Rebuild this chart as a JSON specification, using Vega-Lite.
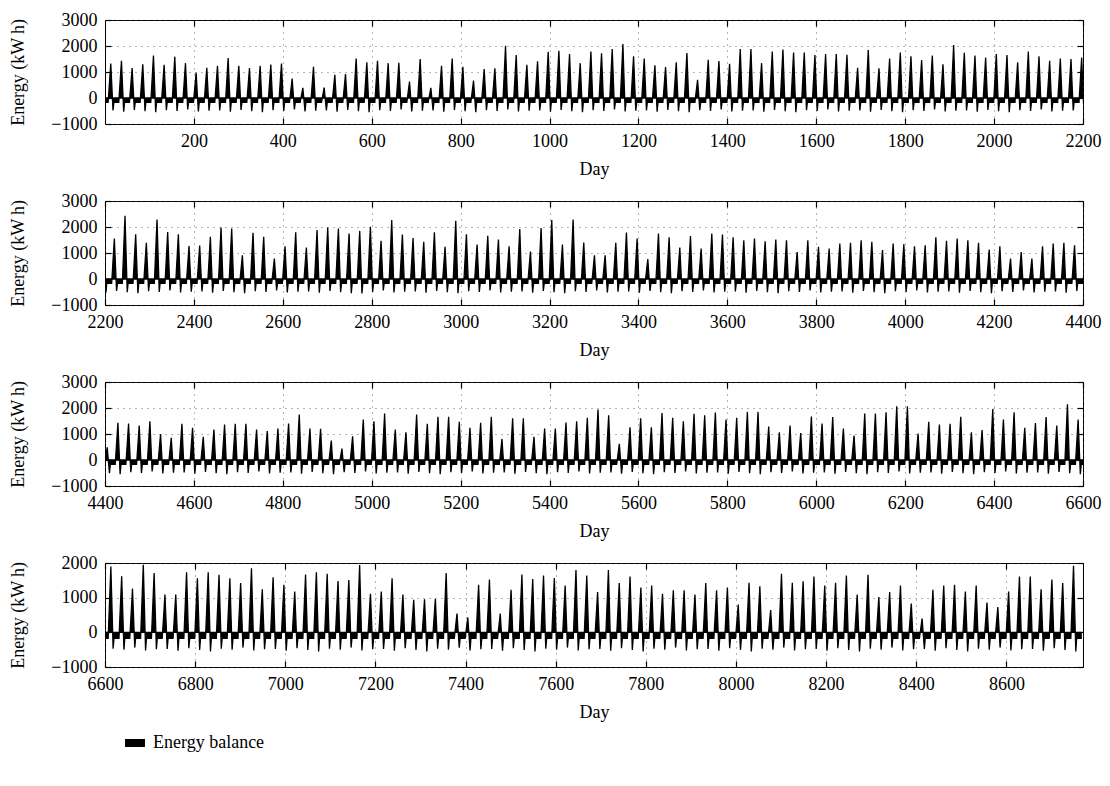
{"$schema":"https://vega.github.io/schema/vega-lite/v6.json","background":"white","padding":{"left":9,"top":10,"right":5,"bottom":5},"bounds":"flush","spacing":77,
"config":{"font":"Liberation Serif","view":{"stroke":"black","strokeWidth":1},
"axis":{"domain":false,"grid":true,"gridColor":"#444","gridDash":[1,5],"gridWidth":0.8,"tickColor":"black","tickSize":-6,"tickWidth":1.2,"labelPadding":14,"labelFlush":false,"labelFont":"Liberation Serif","labelFontSize":18,"labelColor":"black","titleFont":"Liberation Serif","titleFontSize":18,"titleFontWeight":"normal","titleColor":"black","format":"d"},
"axisX":{"titlePadding":10},"axisY":{"titlePadding":23},
"legend":{"orient":"none","legendX":20,"legendY":713,"title":null,"symbolType":"M-1,-0.4H1V0.4H-1Z","symbolSize":400,"labelFont":"Liberation Serif","labelFontSize":18,"labelColor":"black","symbolStrokeWidth":0,"labelOffset":8}},
"datasets":{"e":[{"h":0,"e":-170},
{"h":7,"e":-170},{"h":13,"e":1330},{"h":18,"e":-480},{"h":20,"e":-170},
{"h":31,"e":-170},{"h":37,"e":1430},{"h":42,"e":-530},{"h":44,"e":-170},
{"h":55,"e":-170},{"h":61,"e":1150},{"h":66,"e":-460},{"h":68,"e":-170},
{"h":79,"e":-170},{"h":85,"e":1300},{"h":90,"e":-510},{"h":92,"e":-170},
{"h":103,"e":-170},{"h":109,"e":1630},{"h":114,"e":-550},{"h":116,"e":-170},
{"h":127,"e":-170},{"h":133,"e":1280},{"h":138,"e":-470},{"h":140,"e":-170},
{"h":151,"e":-170},{"h":157,"e":1590},{"h":162,"e":-500},{"h":164,"e":-170},
{"h":175,"e":-170},{"h":181,"e":1340},{"h":186,"e":-440},{"h":188,"e":-170},
{"h":199,"e":-170},{"h":205,"e":970},{"h":210,"e":-520},{"h":212,"e":-170},
{"h":223,"e":-170},{"h":229,"e":1160},{"h":234,"e":-490},{"h":236,"e":-170},
{"h":247,"e":-170},{"h":253,"e":1240},{"h":258,"e":-480},{"h":260,"e":-170},
{"h":271,"e":-170},{"h":277,"e":1540},{"h":282,"e":-530},{"h":284,"e":-170},
{"h":295,"e":-170},{"h":301,"e":1240},{"h":306,"e":-460},{"h":308,"e":-170},
{"h":319,"e":-170},{"h":325,"e":1150},{"h":330,"e":-510},{"h":332,"e":-170},
{"h":343,"e":-170},{"h":349,"e":1240},{"h":354,"e":-550},{"h":356,"e":-170},
{"h":367,"e":-170},{"h":373,"e":1290},{"h":378,"e":-470},{"h":380,"e":-170},
{"h":391,"e":-170},{"h":397,"e":1330},{"h":402,"e":-500},{"h":404,"e":-170},
{"h":415,"e":-170},{"h":421,"e":750},{"h":426,"e":-440},{"h":428,"e":-170},
{"h":439,"e":-170},{"h":445,"e":390},{"h":450,"e":-520},{"h":452,"e":-170},
{"h":463,"e":-170},{"h":469,"e":1200},{"h":474,"e":-490},{"h":476,"e":-170},
{"h":487,"e":-170},{"h":493,"e":400},{"h":498,"e":-480},{"h":500,"e":-170},
{"h":511,"e":-170},{"h":517,"e":890},{"h":522,"e":-530},{"h":524,"e":-170},
{"h":535,"e":-170},{"h":541,"e":920},{"h":546,"e":-460},{"h":548,"e":-170},
{"h":559,"e":-170},{"h":565,"e":1520},{"h":570,"e":-510},{"h":572,"e":-170},
{"h":583,"e":-170},{"h":589,"e":1370},{"h":594,"e":-550},{"h":596,"e":-170},
{"h":607,"e":-170},{"h":613,"e":1430},{"h":618,"e":-470},{"h":620,"e":-170},
{"h":631,"e":-170},{"h":637,"e":1340},{"h":642,"e":-500},{"h":644,"e":-170},
{"h":655,"e":-170},{"h":661,"e":1350},{"h":666,"e":-440},{"h":668,"e":-170},
{"h":679,"e":-170},{"h":685,"e":630},{"h":690,"e":-520},{"h":692,"e":-170},
{"h":703,"e":-170},{"h":709,"e":1500},{"h":714,"e":-490},{"h":716,"e":-170},
{"h":727,"e":-170},{"h":733,"e":390},{"h":738,"e":-480},{"h":740,"e":-170},
{"h":751,"e":-170},{"h":757,"e":1240},{"h":762,"e":-530},{"h":764,"e":-170},
{"h":775,"e":-170},{"h":781,"e":1520},{"h":786,"e":-460},{"h":788,"e":-170},
{"h":799,"e":-170},{"h":805,"e":1200},{"h":810,"e":-510},{"h":812,"e":-170},
{"h":823,"e":-170},{"h":829,"e":670},{"h":834,"e":-550},{"h":836,"e":-170},
{"h":847,"e":-170},{"h":853,"e":1110},{"h":858,"e":-470},{"h":860,"e":-170},
{"h":871,"e":-170},{"h":877,"e":1140},{"h":882,"e":-500},{"h":884,"e":-170},
{"h":895,"e":-170},{"h":901,"e":2010},{"h":906,"e":-440},{"h":908,"e":-170},
{"h":919,"e":-170},{"h":925,"e":1650},{"h":930,"e":-520},{"h":932,"e":-170},
{"h":943,"e":-170},{"h":949,"e":1280},{"h":954,"e":-490},{"h":956,"e":-170},
{"h":967,"e":-170},{"h":973,"e":1410},{"h":978,"e":-480},{"h":980,"e":-170},
{"h":991,"e":-170},{"h":997,"e":1780},{"h":1002,"e":-530},{"h":1004,"e":-170},
{"h":1015,"e":-170},{"h":1021,"e":1820},{"h":1026,"e":-460},{"h":1028,"e":-170},
{"h":1039,"e":-170},{"h":1045,"e":1690},{"h":1050,"e":-510},{"h":1052,"e":-170},
{"h":1063,"e":-170},{"h":1069,"e":1340},{"h":1074,"e":-550},{"h":1076,"e":-170},
{"h":1087,"e":-170},{"h":1093,"e":1790},{"h":1098,"e":-470},{"h":1100,"e":-170},
{"h":1111,"e":-170},{"h":1117,"e":1720},{"h":1122,"e":-500},{"h":1124,"e":-170},
{"h":1135,"e":-170},{"h":1141,"e":1880},{"h":1146,"e":-440},{"h":1148,"e":-170},
{"h":1159,"e":-170},{"h":1165,"e":2080},{"h":1170,"e":-520},{"h":1172,"e":-170},
{"h":1183,"e":-170},{"h":1189,"e":1600},{"h":1194,"e":-490},{"h":1196,"e":-170},
{"h":1207,"e":-170},{"h":1213,"e":1520},{"h":1218,"e":-480},{"h":1220,"e":-170},
{"h":1231,"e":-170},{"h":1237,"e":1260},{"h":1242,"e":-530},{"h":1244,"e":-170},
{"h":1255,"e":-170},{"h":1261,"e":1190},{"h":1266,"e":-460},{"h":1268,"e":-170},
{"h":1279,"e":-170},{"h":1285,"e":1370},{"h":1290,"e":-510},{"h":1292,"e":-170},
{"h":1303,"e":-170},{"h":1309,"e":1730},{"h":1314,"e":-550},{"h":1316,"e":-170},
{"h":1327,"e":-170},{"h":1333,"e":700},{"h":1338,"e":-470},{"h":1340,"e":-170},
{"h":1351,"e":-170},{"h":1357,"e":1470},{"h":1362,"e":-500},{"h":1364,"e":-170},
{"h":1375,"e":-170},{"h":1381,"e":1420},{"h":1386,"e":-440},{"h":1388,"e":-170},
{"h":1399,"e":-170},{"h":1405,"e":1320},{"h":1410,"e":-520},{"h":1412,"e":-170},
{"h":1423,"e":-170},{"h":1429,"e":1880},{"h":1434,"e":-490},{"h":1436,"e":-170},
{"h":1447,"e":-170},{"h":1453,"e":1880},{"h":1458,"e":-480},{"h":1460,"e":-170},
{"h":1471,"e":-170},{"h":1477,"e":1340},{"h":1482,"e":-530},{"h":1484,"e":-170},
{"h":1495,"e":-170},{"h":1501,"e":1790},{"h":1506,"e":-460},{"h":1508,"e":-170},
{"h":1519,"e":-170},{"h":1525,"e":1860},{"h":1530,"e":-510},{"h":1532,"e":-170},
{"h":1543,"e":-170},{"h":1549,"e":1750},{"h":1554,"e":-550},{"h":1556,"e":-170},
{"h":1567,"e":-170},{"h":1573,"e":1750},{"h":1578,"e":-470},{"h":1580,"e":-170},
{"h":1591,"e":-170},{"h":1597,"e":1650},{"h":1602,"e":-500},{"h":1604,"e":-170},
{"h":1615,"e":-170},{"h":1621,"e":1690},{"h":1626,"e":-440},{"h":1628,"e":-170},
{"h":1639,"e":-170},{"h":1645,"e":1690},{"h":1650,"e":-520},{"h":1652,"e":-170},
{"h":1663,"e":-170},{"h":1669,"e":1660},{"h":1674,"e":-490},{"h":1676,"e":-170},
{"h":1687,"e":-170},{"h":1693,"e":1160},{"h":1698,"e":-480},{"h":1700,"e":-170},
{"h":1711,"e":-170},{"h":1717,"e":1850},{"h":1722,"e":-530},{"h":1724,"e":-170},
{"h":1735,"e":-170},{"h":1741,"e":1140},{"h":1746,"e":-460},{"h":1748,"e":-170},
{"h":1759,"e":-170},{"h":1765,"e":1520},{"h":1770,"e":-510},{"h":1772,"e":-170},
{"h":1783,"e":-170},{"h":1789,"e":1750},{"h":1794,"e":-550},{"h":1796,"e":-170},
{"h":1807,"e":-170},{"h":1813,"e":1600},{"h":1818,"e":-470},{"h":1820,"e":-170},
{"h":1831,"e":-170},{"h":1837,"e":1460},{"h":1842,"e":-500},{"h":1844,"e":-170},
{"h":1855,"e":-170},{"h":1861,"e":1630},{"h":1866,"e":-440},{"h":1868,"e":-170},
{"h":1879,"e":-170},{"h":1885,"e":1300},{"h":1890,"e":-520},{"h":1892,"e":-170},
{"h":1903,"e":-170},{"h":1909,"e":2040},{"h":1914,"e":-490},{"h":1916,"e":-170},
{"h":1927,"e":-170},{"h":1933,"e":1740},{"h":1938,"e":-480},{"h":1940,"e":-170},
{"h":1951,"e":-170},{"h":1957,"e":1630},{"h":1962,"e":-530},{"h":1964,"e":-170},
{"h":1975,"e":-170},{"h":1981,"e":1560},{"h":1986,"e":-460},{"h":1988,"e":-170},
{"h":1999,"e":-170},{"h":2005,"e":1690},{"h":2010,"e":-510},{"h":2012,"e":-170},
{"h":2023,"e":-170},{"h":2029,"e":1650},{"h":2034,"e":-550},{"h":2036,"e":-170},
{"h":2047,"e":-170},{"h":2053,"e":1370},{"h":2058,"e":-470},{"h":2060,"e":-170},
{"h":2071,"e":-170},{"h":2077,"e":1790},{"h":2082,"e":-500},{"h":2084,"e":-170},
{"h":2095,"e":-170},{"h":2101,"e":1600},{"h":2106,"e":-440},{"h":2108,"e":-170},
{"h":2119,"e":-170},{"h":2125,"e":1430},{"h":2130,"e":-520},{"h":2132,"e":-170},
{"h":2143,"e":-170},{"h":2149,"e":1520},{"h":2154,"e":-490},{"h":2156,"e":-170},
{"h":2167,"e":-170},{"h":2173,"e":1500},{"h":2178,"e":-480},{"h":2180,"e":-170},
{"h":2191,"e":-170},{"h":2197,"e":1560},{"h":2202,"e":-530},{"h":2204,"e":-170},
{"h":2215,"e":-170},{"h":2221,"e":1560},{"h":2226,"e":-460},{"h":2228,"e":-170},
{"h":2239,"e":-170},{"h":2245,"e":2430},{"h":2250,"e":-510},{"h":2252,"e":-170},
{"h":2263,"e":-170},{"h":2269,"e":1720},{"h":2274,"e":-550},{"h":2276,"e":-170},
{"h":2287,"e":-170},{"h":2293,"e":1390},{"h":2298,"e":-470},{"h":2300,"e":-170},
{"h":2311,"e":-170},{"h":2317,"e":2290},{"h":2322,"e":-500},{"h":2324,"e":-170},
{"h":2335,"e":-170},{"h":2341,"e":1810},{"h":2346,"e":-440},{"h":2348,"e":-170},
{"h":2359,"e":-170},{"h":2365,"e":1720},{"h":2370,"e":-520},{"h":2372,"e":-170},
{"h":2383,"e":-170},{"h":2389,"e":1270},{"h":2394,"e":-490},{"h":2396,"e":-170},
{"h":2407,"e":-170},{"h":2413,"e":1290},{"h":2418,"e":-480},{"h":2420,"e":-170},
{"h":2431,"e":-170},{"h":2437,"e":1620},{"h":2442,"e":-530},{"h":2444,"e":-170},
{"h":2455,"e":-170},{"h":2461,"e":1980},{"h":2466,"e":-460},{"h":2468,"e":-170},
{"h":2479,"e":-170},{"h":2485,"e":1940},{"h":2490,"e":-510},{"h":2492,"e":-170},
{"h":2503,"e":-170},{"h":2509,"e":910},{"h":2514,"e":-550},{"h":2516,"e":-170},
{"h":2527,"e":-170},{"h":2533,"e":1780},{"h":2538,"e":-470},{"h":2540,"e":-170},
{"h":2551,"e":-170},{"h":2557,"e":1620},{"h":2562,"e":-500},{"h":2564,"e":-170},
{"h":2575,"e":-170},{"h":2581,"e":790},{"h":2586,"e":-440},{"h":2588,"e":-170},
{"h":2599,"e":-170},{"h":2605,"e":1260},{"h":2610,"e":-520},{"h":2612,"e":-170},
{"h":2623,"e":-170},{"h":2629,"e":1800},{"h":2634,"e":-490},{"h":2636,"e":-170},
{"h":2647,"e":-170},{"h":2653,"e":1210},{"h":2658,"e":-480},{"h":2660,"e":-170},
{"h":2671,"e":-170},{"h":2677,"e":1880},{"h":2682,"e":-530},{"h":2684,"e":-170},
{"h":2695,"e":-170},{"h":2701,"e":1980},{"h":2706,"e":-460},{"h":2708,"e":-170},
{"h":2719,"e":-170},{"h":2725,"e":1940},{"h":2730,"e":-510},{"h":2732,"e":-170},
{"h":2743,"e":-170},{"h":2749,"e":1750},{"h":2754,"e":-550},{"h":2756,"e":-170},
{"h":2767,"e":-170},{"h":2773,"e":1850},{"h":2778,"e":-560},{"h":2780,"e":-170},
{"h":2791,"e":-170},{"h":2797,"e":2010},{"h":2802,"e":-500},{"h":2804,"e":-170},
{"h":2815,"e":-170},{"h":2821,"e":1470},{"h":2826,"e":-440},{"h":2828,"e":-170},
{"h":2839,"e":-170},{"h":2845,"e":2270},{"h":2850,"e":-520},{"h":2852,"e":-170},
{"h":2863,"e":-170},{"h":2869,"e":1710},{"h":2874,"e":-490},{"h":2876,"e":-170},
{"h":2887,"e":-170},{"h":2893,"e":1580},{"h":2898,"e":-480},{"h":2900,"e":-170},
{"h":2911,"e":-170},{"h":2917,"e":1430},{"h":2922,"e":-530},{"h":2924,"e":-170},
{"h":2935,"e":-170},{"h":2941,"e":1800},{"h":2946,"e":-460},{"h":2948,"e":-170},
{"h":2959,"e":-170},{"h":2965,"e":1240},{"h":2970,"e":-510},{"h":2972,"e":-170},
{"h":2983,"e":-170},{"h":2989,"e":2240},{"h":2994,"e":-550},{"h":2996,"e":-170},
{"h":3007,"e":-170},{"h":3013,"e":1720},{"h":3018,"e":-470},{"h":3020,"e":-170},
{"h":3031,"e":-170},{"h":3037,"e":1330},{"h":3042,"e":-500},{"h":3044,"e":-170},
{"h":3055,"e":-170},{"h":3061,"e":1660},{"h":3066,"e":-440},{"h":3068,"e":-170},
{"h":3079,"e":-170},{"h":3085,"e":1520},{"h":3090,"e":-520},{"h":3092,"e":-170},
{"h":3103,"e":-170},{"h":3109,"e":1260},{"h":3114,"e":-490},{"h":3116,"e":-170},
{"h":3127,"e":-170},{"h":3133,"e":1920},{"h":3138,"e":-480},{"h":3140,"e":-170},
{"h":3151,"e":-170},{"h":3157,"e":1060},{"h":3162,"e":-530},{"h":3164,"e":-170},
{"h":3175,"e":-170},{"h":3181,"e":1960},{"h":3186,"e":-460},{"h":3188,"e":-170},
{"h":3199,"e":-170},{"h":3205,"e":2270},{"h":3210,"e":-510},{"h":3212,"e":-170},
{"h":3223,"e":-170},{"h":3229,"e":1330},{"h":3234,"e":-550},{"h":3236,"e":-170},
{"h":3247,"e":-170},{"h":3253,"e":2290},{"h":3258,"e":-470},{"h":3260,"e":-170},
{"h":3271,"e":-170},{"h":3277,"e":1400},{"h":3282,"e":-500},{"h":3284,"e":-170},
{"h":3295,"e":-170},{"h":3301,"e":910},{"h":3306,"e":-440},{"h":3308,"e":-170},
{"h":3319,"e":-170},{"h":3325,"e":910},{"h":3330,"e":-520},{"h":3332,"e":-170},
{"h":3343,"e":-170},{"h":3349,"e":1390},{"h":3354,"e":-490},{"h":3356,"e":-170},
{"h":3367,"e":-170},{"h":3373,"e":1790},{"h":3378,"e":-480},{"h":3380,"e":-170},
{"h":3391,"e":-170},{"h":3397,"e":1560},{"h":3402,"e":-530},{"h":3404,"e":-170},
{"h":3415,"e":-170},{"h":3421,"e":770},{"h":3426,"e":-460},{"h":3428,"e":-170},
{"h":3439,"e":-170},{"h":3445,"e":1750},{"h":3450,"e":-510},{"h":3452,"e":-170},
{"h":3463,"e":-170},{"h":3469,"e":1600},{"h":3474,"e":-550},{"h":3476,"e":-170},
{"h":3487,"e":-170},{"h":3493,"e":1210},{"h":3498,"e":-470},{"h":3500,"e":-170},
{"h":3511,"e":-170},{"h":3517,"e":1650},{"h":3522,"e":-500},{"h":3524,"e":-170},
{"h":3535,"e":-170},{"h":3541,"e":1170},{"h":3546,"e":-440},{"h":3548,"e":-170},
{"h":3559,"e":-170},{"h":3565,"e":1750},{"h":3570,"e":-520},{"h":3572,"e":-170},
{"h":3583,"e":-170},{"h":3589,"e":1710},{"h":3594,"e":-490},{"h":3596,"e":-170},
{"h":3607,"e":-170},{"h":3613,"e":1600},{"h":3618,"e":-480},{"h":3620,"e":-170},
{"h":3631,"e":-170},{"h":3637,"e":1490},{"h":3642,"e":-530},{"h":3644,"e":-170},
{"h":3655,"e":-170},{"h":3661,"e":1560},{"h":3666,"e":-460},{"h":3668,"e":-170},
{"h":3679,"e":-170},{"h":3685,"e":1450},{"h":3690,"e":-510},{"h":3692,"e":-170},
{"h":3703,"e":-170},{"h":3709,"e":1520},{"h":3714,"e":-550},{"h":3716,"e":-170},
{"h":3727,"e":-170},{"h":3733,"e":1490},{"h":3738,"e":-470},{"h":3740,"e":-170},
{"h":3751,"e":-170},{"h":3757,"e":1040},{"h":3762,"e":-500},{"h":3764,"e":-170},
{"h":3775,"e":-170},{"h":3781,"e":1490},{"h":3786,"e":-440},{"h":3788,"e":-170},
{"h":3799,"e":-170},{"h":3805,"e":1240},{"h":3810,"e":-520},{"h":3812,"e":-170},
{"h":3823,"e":-170},{"h":3829,"e":1170},{"h":3834,"e":-490},{"h":3836,"e":-170},
{"h":3847,"e":-170},{"h":3853,"e":1360},{"h":3858,"e":-480},{"h":3860,"e":-170},
{"h":3871,"e":-170},{"h":3877,"e":1390},{"h":3882,"e":-530},{"h":3884,"e":-170},
{"h":3895,"e":-170},{"h":3901,"e":1490},{"h":3906,"e":-460},{"h":3908,"e":-170},
{"h":3919,"e":-170},{"h":3925,"e":1430},{"h":3930,"e":-510},{"h":3932,"e":-170},
{"h":3943,"e":-170},{"h":3949,"e":1110},{"h":3954,"e":-550},{"h":3956,"e":-170},
{"h":3967,"e":-170},{"h":3973,"e":1360},{"h":3978,"e":-470},{"h":3980,"e":-170},
{"h":3991,"e":-170},{"h":3997,"e":1340},{"h":4002,"e":-500},{"h":4004,"e":-170},
{"h":4015,"e":-170},{"h":4021,"e":1260},{"h":4026,"e":-440},{"h":4028,"e":-170},
{"h":4039,"e":-170},{"h":4045,"e":1300},{"h":4050,"e":-520},{"h":4052,"e":-170},
{"h":4063,"e":-170},{"h":4069,"e":1600},{"h":4074,"e":-490},{"h":4076,"e":-170},
{"h":4087,"e":-170},{"h":4093,"e":1470},{"h":4098,"e":-480},{"h":4100,"e":-170},
{"h":4111,"e":-170},{"h":4117,"e":1560},{"h":4122,"e":-530},{"h":4124,"e":-170},
{"h":4135,"e":-170},{"h":4141,"e":1490},{"h":4146,"e":-460},{"h":4148,"e":-170},
{"h":4159,"e":-170},{"h":4165,"e":1390},{"h":4170,"e":-510},{"h":4172,"e":-170},
{"h":4183,"e":-170},{"h":4189,"e":1130},{"h":4194,"e":-550},{"h":4196,"e":-170},
{"h":4207,"e":-170},{"h":4213,"e":1260},{"h":4218,"e":-470},{"h":4220,"e":-170},
{"h":4231,"e":-170},{"h":4237,"e":790},{"h":4242,"e":-500},{"h":4244,"e":-170},
{"h":4255,"e":-170},{"h":4261,"e":1040},{"h":4266,"e":-440},{"h":4268,"e":-170},
{"h":4279,"e":-170},{"h":4285,"e":790},{"h":4290,"e":-520},{"h":4292,"e":-170},
{"h":4303,"e":-170},{"h":4309,"e":1260},{"h":4314,"e":-490},{"h":4316,"e":-170},
{"h":4327,"e":-170},{"h":4333,"e":1360},{"h":4338,"e":-480},{"h":4340,"e":-170},
{"h":4351,"e":-170},{"h":4357,"e":1390},{"h":4362,"e":-530},{"h":4364,"e":-170},
{"h":4375,"e":-170},{"h":4381,"e":1300},{"h":4386,"e":-460},{"h":4388,"e":-170},
{"h":4399,"e":-170},{"h":4405,"e":490},{"h":4410,"e":-510},{"h":4412,"e":-170},
{"h":4423,"e":-170},{"h":4429,"e":1430},{"h":4434,"e":-550},{"h":4436,"e":-170},
{"h":4447,"e":-170},{"h":4453,"e":1400},{"h":4458,"e":-470},{"h":4460,"e":-170},
{"h":4471,"e":-170},{"h":4477,"e":1330},{"h":4482,"e":-500},{"h":4484,"e":-170},
{"h":4495,"e":-170},{"h":4501,"e":1490},{"h":4506,"e":-440},{"h":4508,"e":-170},
{"h":4519,"e":-170},{"h":4525,"e":1000},{"h":4530,"e":-520},{"h":4532,"e":-170},
{"h":4543,"e":-170},{"h":4549,"e":850},{"h":4554,"e":-490},{"h":4556,"e":-170},
{"h":4567,"e":-170},{"h":4573,"e":1390},{"h":4578,"e":-480},{"h":4580,"e":-170},
{"h":4591,"e":-170},{"h":4597,"e":1240},{"h":4602,"e":-530},{"h":4604,"e":-170},
{"h":4615,"e":-170},{"h":4621,"e":890},{"h":4626,"e":-460},{"h":4628,"e":-170},
{"h":4639,"e":-170},{"h":4645,"e":1170},{"h":4650,"e":-510},{"h":4652,"e":-170},
{"h":4663,"e":-170},{"h":4669,"e":1360},{"h":4674,"e":-550},{"h":4676,"e":-170},
{"h":4687,"e":-170},{"h":4693,"e":1390},{"h":4698,"e":-470},{"h":4700,"e":-170},
{"h":4711,"e":-170},{"h":4717,"e":1390},{"h":4722,"e":-500},{"h":4724,"e":-170},
{"h":4735,"e":-170},{"h":4741,"e":1170},{"h":4746,"e":-440},{"h":4748,"e":-170},
{"h":4759,"e":-170},{"h":4765,"e":1110},{"h":4770,"e":-520},{"h":4772,"e":-170},
{"h":4783,"e":-170},{"h":4789,"e":1210},{"h":4794,"e":-490},{"h":4796,"e":-170},
{"h":4807,"e":-170},{"h":4813,"e":1400},{"h":4818,"e":-480},{"h":4820,"e":-170},
{"h":4831,"e":-170},{"h":4837,"e":1750},{"h":4842,"e":-530},{"h":4844,"e":-170},
{"h":4855,"e":-170},{"h":4861,"e":1210},{"h":4866,"e":-460},{"h":4868,"e":-170},
{"h":4879,"e":-170},{"h":4885,"e":1200},{"h":4890,"e":-510},{"h":4892,"e":-170},
{"h":4903,"e":-170},{"h":4909,"e":750},{"h":4914,"e":-550},{"h":4916,"e":-170},
{"h":4927,"e":-170},{"h":4933,"e":440},{"h":4938,"e":-470},{"h":4940,"e":-170},
{"h":4951,"e":-170},{"h":4957,"e":910},{"h":4962,"e":-500},{"h":4964,"e":-170},
{"h":4975,"e":-170},{"h":4981,"e":1560},{"h":4986,"e":-440},{"h":4988,"e":-170},
{"h":4999,"e":-170},{"h":5005,"e":1490},{"h":5010,"e":-520},{"h":5012,"e":-170},
{"h":5023,"e":-170},{"h":5029,"e":1790},{"h":5034,"e":-490},{"h":5036,"e":-170},
{"h":5047,"e":-170},{"h":5053,"e":1170},{"h":5058,"e":-480},{"h":5060,"e":-170},
{"h":5071,"e":-170},{"h":5077,"e":1070},{"h":5082,"e":-530},{"h":5084,"e":-170},
{"h":5095,"e":-170},{"h":5101,"e":1750},{"h":5106,"e":-460},{"h":5108,"e":-170},
{"h":5119,"e":-170},{"h":5125,"e":1390},{"h":5130,"e":-510},{"h":5132,"e":-170},
{"h":5143,"e":-170},{"h":5149,"e":1660},{"h":5154,"e":-550},{"h":5156,"e":-170},
{"h":5167,"e":-170},{"h":5173,"e":1660},{"h":5178,"e":-470},{"h":5180,"e":-170},
{"h":5191,"e":-170},{"h":5197,"e":1470},{"h":5202,"e":-500},{"h":5204,"e":-170},
{"h":5215,"e":-170},{"h":5221,"e":1240},{"h":5226,"e":-440},{"h":5228,"e":-170},
{"h":5239,"e":-170},{"h":5245,"e":1430},{"h":5250,"e":-520},{"h":5252,"e":-170},
{"h":5263,"e":-170},{"h":5269,"e":1660},{"h":5274,"e":-490},{"h":5276,"e":-170},
{"h":5287,"e":-170},{"h":5293,"e":810},{"h":5298,"e":-480},{"h":5300,"e":-170},
{"h":5311,"e":-170},{"h":5317,"e":1600},{"h":5322,"e":-530},{"h":5324,"e":-170},
{"h":5335,"e":-170},{"h":5341,"e":1600},{"h":5346,"e":-460},{"h":5348,"e":-170},
{"h":5359,"e":-170},{"h":5365,"e":890},{"h":5370,"e":-510},{"h":5372,"e":-170},
{"h":5383,"e":-170},{"h":5389,"e":1210},{"h":5394,"e":-550},{"h":5396,"e":-170},
{"h":5407,"e":-170},{"h":5413,"e":1210},{"h":5418,"e":-470},{"h":5420,"e":-170},
{"h":5431,"e":-170},{"h":5437,"e":1440},{"h":5442,"e":-500},{"h":5444,"e":-170},
{"h":5455,"e":-170},{"h":5461,"e":1490},{"h":5466,"e":-440},{"h":5468,"e":-170},
{"h":5479,"e":-170},{"h":5485,"e":1620},{"h":5490,"e":-520},{"h":5492,"e":-170},
{"h":5503,"e":-170},{"h":5509,"e":1940},{"h":5514,"e":-490},{"h":5516,"e":-170},
{"h":5527,"e":-170},{"h":5533,"e":1720},{"h":5538,"e":-480},{"h":5540,"e":-170},
{"h":5551,"e":-170},{"h":5557,"e":620},{"h":5562,"e":-530},{"h":5564,"e":-170},
{"h":5575,"e":-170},{"h":5581,"e":1260},{"h":5586,"e":-460},{"h":5588,"e":-170},
{"h":5599,"e":-170},{"h":5605,"e":1600},{"h":5610,"e":-510},{"h":5612,"e":-170},
{"h":5623,"e":-170},{"h":5629,"e":1260},{"h":5634,"e":-550},{"h":5636,"e":-170},
{"h":5647,"e":-170},{"h":5653,"e":1810},{"h":5658,"e":-470},{"h":5660,"e":-170},
{"h":5671,"e":-170},{"h":5677,"e":1620},{"h":5682,"e":-500},{"h":5684,"e":-170},
{"h":5695,"e":-170},{"h":5701,"e":1490},{"h":5706,"e":-440},{"h":5708,"e":-170},
{"h":5719,"e":-170},{"h":5725,"e":1780},{"h":5730,"e":-520},{"h":5732,"e":-170},
{"h":5743,"e":-170},{"h":5749,"e":1720},{"h":5754,"e":-490},{"h":5756,"e":-170},
{"h":5767,"e":-170},{"h":5773,"e":1830},{"h":5778,"e":-480},{"h":5780,"e":-170},
{"h":5791,"e":-170},{"h":5797,"e":1560},{"h":5802,"e":-530},{"h":5804,"e":-170},
{"h":5815,"e":-170},{"h":5821,"e":1620},{"h":5826,"e":-460},{"h":5828,"e":-170},
{"h":5839,"e":-170},{"h":5845,"e":1850},{"h":5850,"e":-510},{"h":5852,"e":-170},
{"h":5863,"e":-170},{"h":5869,"e":1850},{"h":5874,"e":-550},{"h":5876,"e":-170},
{"h":5887,"e":-170},{"h":5893,"e":1290},{"h":5898,"e":-470},{"h":5900,"e":-170},
{"h":5911,"e":-170},{"h":5917,"e":1070},{"h":5922,"e":-500},{"h":5924,"e":-170},
{"h":5935,"e":-170},{"h":5941,"e":1330},{"h":5946,"e":-440},{"h":5948,"e":-170},
{"h":5959,"e":-170},{"h":5965,"e":1040},{"h":5970,"e":-520},{"h":5972,"e":-170},
{"h":5983,"e":-170},{"h":5989,"e":1670},{"h":5994,"e":-490},{"h":5996,"e":-170},
{"h":6007,"e":-170},{"h":6013,"e":1400},{"h":6018,"e":-480},{"h":6020,"e":-170},
{"h":6031,"e":-170},{"h":6037,"e":1650},{"h":6042,"e":-530},{"h":6044,"e":-170},
{"h":6055,"e":-170},{"h":6061,"e":1210},{"h":6066,"e":-460},{"h":6068,"e":-170},
{"h":6079,"e":-170},{"h":6085,"e":940},{"h":6090,"e":-510},{"h":6092,"e":-170},
{"h":6103,"e":-170},{"h":6109,"e":1790},{"h":6114,"e":-550},{"h":6116,"e":-170},
{"h":6127,"e":-170},{"h":6133,"e":1790},{"h":6138,"e":-470},{"h":6140,"e":-170},
{"h":6151,"e":-170},{"h":6157,"e":1840},{"h":6162,"e":-500},{"h":6164,"e":-170},
{"h":6175,"e":-170},{"h":6181,"e":2070},{"h":6186,"e":-440},{"h":6188,"e":-170},
{"h":6199,"e":-170},{"h":6205,"e":2070},{"h":6210,"e":-520},{"h":6212,"e":-170},
{"h":6223,"e":-170},{"h":6229,"e":1020},{"h":6234,"e":-490},{"h":6236,"e":-170},
{"h":6247,"e":-170},{"h":6253,"e":1470},{"h":6258,"e":-480},{"h":6260,"e":-170},
{"h":6271,"e":-170},{"h":6277,"e":1360},{"h":6282,"e":-530},{"h":6284,"e":-170},
{"h":6295,"e":-170},{"h":6301,"e":1390},{"h":6306,"e":-460},{"h":6308,"e":-170},
{"h":6319,"e":-170},{"h":6325,"e":1660},{"h":6330,"e":-510},{"h":6332,"e":-170},
{"h":6343,"e":-170},{"h":6349,"e":1070},{"h":6354,"e":-550},{"h":6356,"e":-170},
{"h":6367,"e":-170},{"h":6373,"e":1150},{"h":6378,"e":-470},{"h":6380,"e":-170},
{"h":6391,"e":-170},{"h":6397,"e":1960},{"h":6402,"e":-500},{"h":6404,"e":-170},
{"h":6415,"e":-170},{"h":6421,"e":1560},{"h":6426,"e":-440},{"h":6428,"e":-170},
{"h":6439,"e":-170},{"h":6445,"e":1840},{"h":6450,"e":-520},{"h":6452,"e":-170},
{"h":6463,"e":-170},{"h":6469,"e":1240},{"h":6474,"e":-490},{"h":6476,"e":-170},
{"h":6487,"e":-170},{"h":6493,"e":1420},{"h":6498,"e":-480},{"h":6500,"e":-170},
{"h":6511,"e":-170},{"h":6517,"e":1650},{"h":6522,"e":-530},{"h":6524,"e":-170},
{"h":6535,"e":-170},{"h":6541,"e":1330},{"h":6546,"e":-460},{"h":6548,"e":-170},
{"h":6559,"e":-170},{"h":6565,"e":2140},{"h":6570,"e":-510},{"h":6572,"e":-170},
{"h":6583,"e":-170},{"h":6589,"e":1560},{"h":6594,"e":-550},{"h":6596,"e":-170},
{"h":6607,"e":-170},{"h":6613,"e":1900},{"h":6618,"e":-470},{"h":6620,"e":-170},
{"h":6631,"e":-170},{"h":6637,"e":1620},{"h":6642,"e":-500},{"h":6644,"e":-170},
{"h":6655,"e":-170},{"h":6661,"e":1260},{"h":6666,"e":-440},{"h":6668,"e":-170},
{"h":6679,"e":-170},{"h":6685,"e":1950},{"h":6690,"e":-520},{"h":6692,"e":-170},
{"h":6703,"e":-170},{"h":6709,"e":1710},{"h":6714,"e":-490},{"h":6716,"e":-170},
{"h":6727,"e":-170},{"h":6733,"e":1090},{"h":6738,"e":-480},{"h":6740,"e":-170},
{"h":6751,"e":-170},{"h":6757,"e":1090},{"h":6762,"e":-530},{"h":6764,"e":-170},
{"h":6775,"e":-170},{"h":6781,"e":1730},{"h":6786,"e":-460},{"h":6788,"e":-170},
{"h":6799,"e":-170},{"h":6805,"e":1560},{"h":6810,"e":-510},{"h":6812,"e":-170},
{"h":6823,"e":-170},{"h":6829,"e":1730},{"h":6834,"e":-550},{"h":6836,"e":-170},
{"h":6847,"e":-170},{"h":6853,"e":1660},{"h":6858,"e":-470},{"h":6860,"e":-170},
{"h":6871,"e":-170},{"h":6877,"e":1560},{"h":6882,"e":-500},{"h":6884,"e":-170},
{"h":6895,"e":-170},{"h":6901,"e":1420},{"h":6906,"e":-440},{"h":6908,"e":-170},
{"h":6919,"e":-170},{"h":6925,"e":1850},{"h":6930,"e":-520},{"h":6932,"e":-170},
{"h":6943,"e":-170},{"h":6949,"e":1240},{"h":6954,"e":-490},{"h":6956,"e":-170},
{"h":6967,"e":-170},{"h":6973,"e":1590},{"h":6978,"e":-480},{"h":6980,"e":-170},
{"h":6991,"e":-170},{"h":6997,"e":1370},{"h":7002,"e":-530},{"h":7004,"e":-170},
{"h":7015,"e":-170},{"h":7021,"e":1180},{"h":7026,"e":-460},{"h":7028,"e":-170},
{"h":7039,"e":-170},{"h":7045,"e":1670},{"h":7050,"e":-510},{"h":7052,"e":-170},
{"h":7063,"e":-170},{"h":7069,"e":1730},{"h":7074,"e":-550},{"h":7076,"e":-170},
{"h":7087,"e":-170},{"h":7093,"e":1690},{"h":7098,"e":-470},{"h":7100,"e":-170},
{"h":7111,"e":-170},{"h":7117,"e":1480},{"h":7122,"e":-500},{"h":7124,"e":-170},
{"h":7135,"e":-170},{"h":7141,"e":1510},{"h":7146,"e":-440},{"h":7148,"e":-170},
{"h":7159,"e":-170},{"h":7165,"e":1940},{"h":7170,"e":-520},{"h":7172,"e":-170},
{"h":7183,"e":-170},{"h":7189,"e":1110},{"h":7194,"e":-490},{"h":7196,"e":-170},
{"h":7207,"e":-170},{"h":7213,"e":1180},{"h":7218,"e":-480},{"h":7220,"e":-170},
{"h":7231,"e":-170},{"h":7237,"e":1560},{"h":7242,"e":-530},{"h":7244,"e":-170},
{"h":7255,"e":-170},{"h":7261,"e":1090},{"h":7266,"e":-460},{"h":7268,"e":-170},
{"h":7279,"e":-170},{"h":7285,"e":940},{"h":7290,"e":-510},{"h":7292,"e":-170},
{"h":7303,"e":-170},{"h":7309,"e":950},{"h":7314,"e":-550},{"h":7316,"e":-170},
{"h":7327,"e":-170},{"h":7333,"e":970},{"h":7338,"e":-470},{"h":7340,"e":-170},
{"h":7351,"e":-170},{"h":7357,"e":1710},{"h":7362,"e":-500},{"h":7364,"e":-170},
{"h":7375,"e":-170},{"h":7381,"e":540},{"h":7386,"e":-440},{"h":7388,"e":-170},
{"h":7399,"e":-170},{"h":7405,"e":430},{"h":7410,"e":-520},{"h":7412,"e":-170},
{"h":7423,"e":-170},{"h":7429,"e":1370},{"h":7434,"e":-490},{"h":7436,"e":-170},
{"h":7447,"e":-170},{"h":7453,"e":1520},{"h":7458,"e":-480},{"h":7460,"e":-170},
{"h":7471,"e":-170},{"h":7477,"e":540},{"h":7482,"e":-530},{"h":7484,"e":-170},
{"h":7495,"e":-170},{"h":7501,"e":1230},{"h":7506,"e":-460},{"h":7508,"e":-170},
{"h":7519,"e":-170},{"h":7525,"e":1670},{"h":7530,"e":-510},{"h":7532,"e":-170},
{"h":7543,"e":-170},{"h":7549,"e":1540},{"h":7554,"e":-550},{"h":7556,"e":-170},
{"h":7567,"e":-170},{"h":7573,"e":1640},{"h":7578,"e":-470},{"h":7580,"e":-170},
{"h":7591,"e":-170},{"h":7597,"e":1570},{"h":7602,"e":-500},{"h":7604,"e":-170},
{"h":7615,"e":-170},{"h":7621,"e":1350},{"h":7626,"e":-440},{"h":7628,"e":-170},
{"h":7639,"e":-170},{"h":7645,"e":1800},{"h":7650,"e":-520},{"h":7652,"e":-170},
{"h":7663,"e":-170},{"h":7669,"e":1640},{"h":7674,"e":-490},{"h":7676,"e":-170},
{"h":7687,"e":-170},{"h":7693,"e":1160},{"h":7698,"e":-480},{"h":7700,"e":-170},
{"h":7711,"e":-170},{"h":7717,"e":1800},{"h":7722,"e":-530},{"h":7724,"e":-170},
{"h":7735,"e":-170},{"h":7741,"e":1420},{"h":7746,"e":-460},{"h":7748,"e":-170},
{"h":7759,"e":-170},{"h":7765,"e":1610},{"h":7770,"e":-510},{"h":7772,"e":-170},
{"h":7783,"e":-170},{"h":7789,"e":1290},{"h":7794,"e":-550},{"h":7796,"e":-170},
{"h":7807,"e":-170},{"h":7813,"e":1350},{"h":7818,"e":-470},{"h":7820,"e":-170},
{"h":7831,"e":-170},{"h":7837,"e":1110},{"h":7842,"e":-500},{"h":7844,"e":-170},
{"h":7855,"e":-170},{"h":7861,"e":1210},{"h":7866,"e":-440},{"h":7868,"e":-170},
{"h":7879,"e":-170},{"h":7885,"e":1210},{"h":7890,"e":-520},{"h":7892,"e":-170},
{"h":7903,"e":-170},{"h":7909,"e":1090},{"h":7914,"e":-490},{"h":7916,"e":-170},
{"h":7927,"e":-170},{"h":7933,"e":1420},{"h":7938,"e":-480},{"h":7940,"e":-170},
{"h":7951,"e":-170},{"h":7957,"e":1210},{"h":7962,"e":-530},{"h":7964,"e":-170},
{"h":7975,"e":-170},{"h":7981,"e":1290},{"h":7986,"e":-460},{"h":7988,"e":-170},
{"h":7999,"e":-170},{"h":8005,"e":800},{"h":8010,"e":-510},{"h":8012,"e":-170},
{"h":8023,"e":-170},{"h":8029,"e":1430},{"h":8034,"e":-550},{"h":8036,"e":-170},
{"h":8047,"e":-170},{"h":8053,"e":1330},{"h":8058,"e":-470},{"h":8060,"e":-170},
{"h":8071,"e":-170},{"h":8077,"e":640},{"h":8082,"e":-500},{"h":8084,"e":-170},
{"h":8095,"e":-170},{"h":8101,"e":1690},{"h":8106,"e":-440},{"h":8108,"e":-170},
{"h":8119,"e":-170},{"h":8125,"e":1430},{"h":8130,"e":-520},{"h":8132,"e":-170},
{"h":8143,"e":-170},{"h":8149,"e":1470},{"h":8154,"e":-490},{"h":8156,"e":-170},
{"h":8167,"e":-170},{"h":8173,"e":1610},{"h":8178,"e":-480},{"h":8180,"e":-170},
{"h":8191,"e":-170},{"h":8197,"e":1350},{"h":8202,"e":-530},{"h":8204,"e":-170},
{"h":8215,"e":-170},{"h":8221,"e":1430},{"h":8226,"e":-460},{"h":8228,"e":-170},
{"h":8239,"e":-170},{"h":8245,"e":1640},{"h":8250,"e":-510},{"h":8252,"e":-170},
{"h":8263,"e":-170},{"h":8269,"e":1090},{"h":8274,"e":-550},{"h":8276,"e":-170},
{"h":8287,"e":-170},{"h":8293,"e":1660},{"h":8298,"e":-470},{"h":8300,"e":-170},
{"h":8311,"e":-170},{"h":8317,"e":1020},{"h":8322,"e":-500},{"h":8324,"e":-170},
{"h":8335,"e":-170},{"h":8341,"e":1160},{"h":8346,"e":-440},{"h":8348,"e":-170},
{"h":8359,"e":-170},{"h":8365,"e":1350},{"h":8370,"e":-520},{"h":8372,"e":-170},
{"h":8383,"e":-170},{"h":8389,"e":830},{"h":8394,"e":-490},{"h":8396,"e":-170},
{"h":8407,"e":-170},{"h":8413,"e":400},{"h":8418,"e":-480},{"h":8420,"e":-170},
{"h":8431,"e":-170},{"h":8437,"e":1230},{"h":8442,"e":-530},{"h":8444,"e":-170},
{"h":8455,"e":-170},{"h":8461,"e":1350},{"h":8466,"e":-460},{"h":8468,"e":-170},
{"h":8479,"e":-170},{"h":8485,"e":1370},{"h":8490,"e":-510},{"h":8492,"e":-170},
{"h":8503,"e":-170},{"h":8509,"e":1180},{"h":8514,"e":-550},{"h":8516,"e":-170},
{"h":8527,"e":-170},{"h":8533,"e":1350},{"h":8538,"e":-470},{"h":8540,"e":-170},
{"h":8551,"e":-170},{"h":8557,"e":860},{"h":8562,"e":-500},{"h":8564,"e":-170},
{"h":8575,"e":-170},{"h":8581,"e":730},{"h":8586,"e":-440},{"h":8588,"e":-170},
{"h":8599,"e":-170},{"h":8605,"e":1180},{"h":8610,"e":-520},{"h":8612,"e":-170},
{"h":8623,"e":-170},{"h":8629,"e":1610},{"h":8634,"e":-490},{"h":8636,"e":-170},
{"h":8647,"e":-170},{"h":8653,"e":1610},{"h":8658,"e":-480},{"h":8660,"e":-170},
{"h":8671,"e":-170},{"h":8677,"e":1240},{"h":8682,"e":-530},{"h":8684,"e":-170},
{"h":8695,"e":-170},{"h":8701,"e":1520},{"h":8706,"e":-460},{"h":8708,"e":-170},
{"h":8719,"e":-170},{"h":8725,"e":1420},{"h":8730,"e":-510},{"h":8732,"e":-170},
{"h":8743,"e":-170},{"h":8749,"e":1920},{"h":8754,"e":-550},{"h":8756,"e":-170},
{"h":8766,"e":-170}]},
"vconcat":[
{"width":978,"height":104,"data":{"name":"e"},"transform":[{"filter":{"field":"h","range":[0,2230]}}],"resolve":{"axis":{"x":"independent","y":"independent"}},
"layer":[
{"mark":{"type":"area","clip":true,"stroke":"black","strokeWidth":1.3},
"encoding":{"x":{"field":"h","type":"quantitative","scale":{"domain":[0,2200],"nice":false,"zero":false},"axis":{"values":[200,400,600,800,1000,1200,1400,1600,1800,2000,2200],"format":"d","title":"Day"}},
"y":{"field":"e","type":"quantitative","scale":{"domain":[-1000,3000],"nice":false},"axis":{"values":[-1000,0,1000,2000,3000],"format":"d","title":"Energy (kW\u2009h)"}},
"fill":{"datum":"Energy balance","type":"nominal","scale":{"range":["black"]}}}},
{"mark":{"type":"area","opacity":0,"clip":true},
"encoding":{"x":{"field":"h","type":"quantitative","axis":{"orient":"top","values":[200,400,600,800,1000,1200,1400,1600,1800,2000,2200],"labels":false,"title":null,"grid":false}},
"y":{"field":"e","type":"quantitative","axis":{"orient":"right","values":[-1000,0,1000,2000,3000],"labels":false,"title":null,"grid":false}}}}]},
{"width":978,"height":104,"data":{"name":"e"},"transform":[{"filter":{"field":"h","range":[2170,4430]}}],"resolve":{"axis":{"x":"independent","y":"independent"}},
"layer":[
{"mark":{"type":"area","clip":true,"stroke":"black","strokeWidth":1.3},
"encoding":{"x":{"field":"h","type":"quantitative","scale":{"domain":[2200,4400],"nice":false,"zero":false},"axis":{"values":[2200,2400,2600,2800,3000,3200,3400,3600,3800,4000,4200,4400],"format":"d","title":"Day"}},
"y":{"field":"e","type":"quantitative","scale":{"domain":[-1000,3000],"nice":false},"axis":{"values":[-1000,0,1000,2000,3000],"format":"d","title":"Energy (kW\u2009h)"}},
"fill":{"datum":"Energy balance","type":"nominal","scale":{"range":["black"]}}}},
{"mark":{"type":"area","opacity":0,"clip":true},
"encoding":{"x":{"field":"h","type":"quantitative","axis":{"orient":"top","values":[2200,2400,2600,2800,3000,3200,3400,3600,3800,4000,4200,4400],"labels":false,"title":null,"grid":false}},
"y":{"field":"e","type":"quantitative","axis":{"orient":"right","values":[-1000,0,1000,2000,3000],"labels":false,"title":null,"grid":false}}}}]},
{"width":978,"height":104,"data":{"name":"e"},"transform":[{"filter":{"field":"h","range":[4370,6630]}}],"resolve":{"axis":{"x":"independent","y":"independent"}},
"layer":[
{"mark":{"type":"area","clip":true,"stroke":"black","strokeWidth":1.3},
"encoding":{"x":{"field":"h","type":"quantitative","scale":{"domain":[4400,6600],"nice":false,"zero":false},"axis":{"values":[4400,4600,4800,5000,5200,5400,5600,5800,6000,6200,6400,6600],"format":"d","title":"Day"}},
"y":{"field":"e","type":"quantitative","scale":{"domain":[-1000,3000],"nice":false},"axis":{"values":[-1000,0,1000,2000,3000],"format":"d","title":"Energy (kW\u2009h)"}},
"fill":{"datum":"Energy balance","type":"nominal","scale":{"range":["black"]}}}},
{"mark":{"type":"area","opacity":0,"clip":true},
"encoding":{"x":{"field":"h","type":"quantitative","axis":{"orient":"top","values":[4400,4600,4800,5000,5200,5400,5600,5800,6000,6200,6400,6600],"labels":false,"title":null,"grid":false}},
"y":{"field":"e","type":"quantitative","axis":{"orient":"right","values":[-1000,0,1000,2000,3000],"labels":false,"title":null,"grid":false}}}}]},
{"width":978,"height":104,"data":{"name":"e"},"transform":[{"filter":{"field":"h","range":[6570,8800]}}],"resolve":{"axis":{"x":"independent","y":"independent"}},
"layer":[
{"mark":{"type":"area","clip":true,"stroke":"black","strokeWidth":1.3},
"encoding":{"x":{"field":"h","type":"quantitative","scale":{"domain":[6600,8770],"nice":false,"zero":false},"axis":{"values":[6600,6800,7000,7200,7400,7600,7800,8000,8200,8400,8600],"format":"d","title":"Day"}},
"y":{"field":"e","type":"quantitative","scale":{"domain":[-1000,2000],"nice":false},"axis":{"values":[-1000,0,1000,2000],"format":"d","title":"Energy (kW\u2009h)"}},
"fill":{"datum":"Energy balance","type":"nominal","scale":{"range":["black"]}}}},
{"mark":{"type":"area","opacity":0,"clip":true},
"encoding":{"x":{"field":"h","type":"quantitative","axis":{"orient":"top","values":[6600,6800,7000,7200,7400,7600,7800,8000,8200,8400,8600],"labels":false,"title":null,"grid":false}},
"y":{"field":"e","type":"quantitative","axis":{"orient":"right","values":[-1000,0,1000,2000],"labels":false,"title":null,"grid":false}}}}]}
]}
